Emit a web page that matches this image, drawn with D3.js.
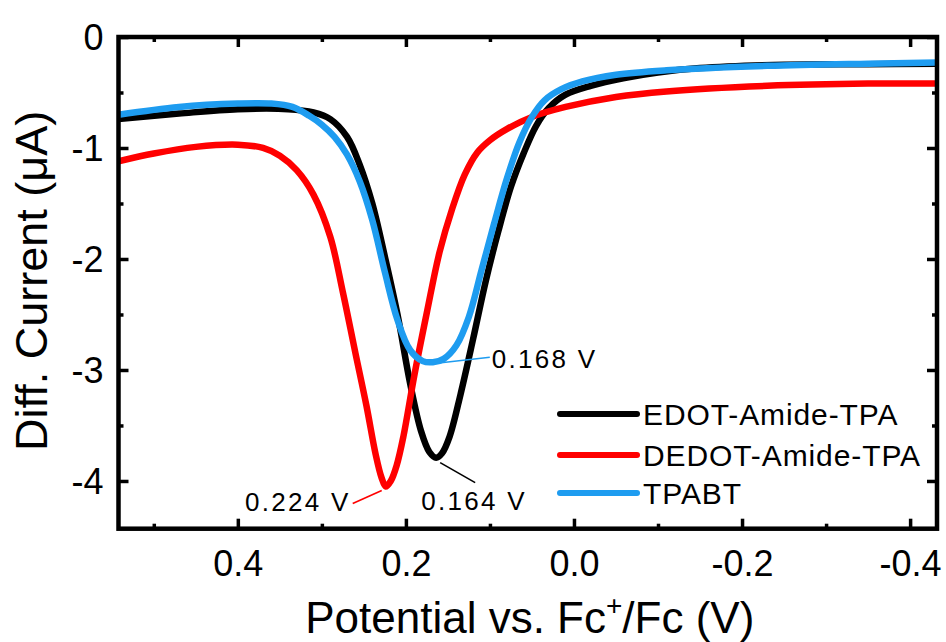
<!DOCTYPE html>
<html>
<head>
<meta charset="utf-8">
<script src="https://cdn.jsdelivr.net/npm/d3@7/dist/d3.min.js"></script>
<style>
  html, body { margin: 0; padding: 0; background: #fff; }
  svg { display: block; }
  text { font-family: "Liberation Sans", Arial, sans-serif; fill: #000; }
</style>
</head>
<body>
<svg id="chart" width="946" height="642"></svg>
<script>
// ---- Data ----
const seriesNames = ["EDOT-Amide-TPA", "DEDOT-Amide-TPA", "TPABT"];
const seriesColors = ["#000000", "#ff0000", "#1e9cf0"];

const edotV = [0.542, 0.47, 0.40, 0.34, 0.31, 0.29, 0.27, 0.255, 0.24, 0.225, 0.21, 0.195, 0.182, 0.172, 0.164, 0.157, 0.148, 0.135, 0.12, 0.105, 0.09, 0.075, 0.06, 0.045, 0.03, 0.01, -0.02, -0.06, -0.10, -0.15, -0.25, -0.35, -0.432];
const edotI = [-0.74, -0.69, -0.65, -0.65, -0.68, -0.74, -0.90, -1.15, -1.50, -1.98, -2.50, -3.12, -3.55, -3.74, -3.79, -3.75, -3.60, -3.22, -2.72, -2.20, -1.75, -1.35, -1.05, -0.80, -0.64, -0.52, -0.44, -0.37, -0.32, -0.28, -0.25, -0.245, -0.24];

const dedotV = [0.542, 0.50, 0.45, 0.40, 0.37, 0.35, 0.33, 0.31, 0.29, 0.275, 0.26, 0.247, 0.236, 0.229, 0.224, 0.218, 0.211, 0.203, 0.19, 0.175, 0.16, 0.145, 0.13, 0.115, 0.10, 0.08, 0.05, 0.01, -0.05, -0.11, -0.23, -0.35, -0.432];
const dedotI = [-1.12, -1.05, -0.99, -0.97, -1.00, -1.07, -1.20, -1.42, -1.80, -2.30, -2.85, -3.32, -3.76, -3.97, -4.05, -4.00, -3.86, -3.60, -3.05, -2.48, -1.94, -1.55, -1.24, -1.04, -0.93, -0.83, -0.72, -0.63, -0.54, -0.49, -0.44, -0.42, -0.42];

const tpabtV = [0.542, 0.47, 0.40, 0.36, 0.335, 0.315, 0.30, 0.285, 0.27, 0.255, 0.24, 0.225, 0.21, 0.195, 0.18, 0.168, 0.155, 0.14, 0.125, 0.11, 0.095, 0.08, 0.065, 0.05, 0.035, 0.015, -0.01, -0.05, -0.11, -0.23, -0.35, -0.432];
const tpabtI = [-0.70, -0.63, -0.60, -0.60, -0.63, -0.71, -0.79, -0.90, -1.06, -1.30, -1.65, -2.12, -2.55, -2.82, -2.92, -2.93, -2.90, -2.78, -2.52, -2.10, -1.68, -1.28, -0.95, -0.72, -0.57, -0.47, -0.40, -0.34, -0.30, -0.26, -0.24, -0.23];

const xMajorTicks = [0.4, 0.2, 0.0, -0.2, -0.4];
const xMinorTicks = [0.5, 0.3, 0.1, -0.1, -0.3];
const yMajorTicks = [0, -1, -2, -3, -4];
const yMinorTicks = [-0.5, -1.5, -2.5, -3.5];
const xTickLabels = ["0.4", "0.2", "0.0", "-0.2", "-0.4"];
const yTickLabels = ["0", "-1", "-2", "-3", "-4"];

// peak annotations
const peakV = [0.168, 0.164, 0.224];
const peakI = [-2.93, -3.79, -4.05];
const peakLabels = ["0.168 V", "0.164 V", "0.224 V"];
const peakSeries = [2, 0, 1];

// ---- Layout ----
const svg = d3.select("#chart");
const L = 118.5, R = 937, T = 37, B = 528.7;

const x = d3.scaleLinear().domain([0.542, -0.432]).range([L, R]);
const y = d3.scaleLinear().domain([0, -4.43]).range([T, B]);

const series = [
  {V: edotV, I: edotI},
  {V: dedotV, I: dedotI},
  {V: tpabtV, I: tpabtI}
];

const line = d3.line()
  .x(d => x(d[0]))
  .y(d => y(d[1]))
  .curve(d3.curveCatmullRom.alpha(0.5));

svg.append("defs").append("clipPath").attr("id", "clip")
  .append("rect").attr("x", L).attr("y", T).attr("width", R - L).attr("height", B - T);

const plot = svg.append("g").attr("clip-path", "url(#clip)");
series.forEach((s, i) => {
  const pts = s.V.map((v, k) => [v, s.I[k]]);
  plot.append("path")
    .attr("d", line(pts))
    .attr("fill", "none")
    .attr("stroke", seriesColors[i])
    .attr("stroke-width", 6.5)
    .attr("stroke-linejoin", "round")
    .attr("stroke-linecap", "round");
});

// ---- Axes (ticks inward on all 4 sides) ----
const majLen = 10, minLen = 5, tickW = 3.5;
function addAxis(axis, transform) {
  const g = svg.append("g").attr("transform", transform).call(axis);
  g.select(".domain").remove();
  g.selectAll(".tick line").attr("stroke", "#000").attr("stroke-width", tickW);
  return g;
}
const xb = addAxis(d3.axisBottom(x).tickValues(xMajorTicks).tickSize(-majLen).tickPadding(0)
  .tickFormat((d, i) => xTickLabels[i]), `translate(0,${B})`);
xb.selectAll(".tick text").attr("font-size", 36).attr("dy", 0).attr("y", 47)
  .attr("font-family", "Liberation Sans, Arial, sans-serif");
addAxis(d3.axisBottom(x).tickValues(xMinorTicks).tickSize(-minLen).tickFormat(""), `translate(0,${B})`);
addAxis(d3.axisTop(x).tickValues(xMajorTicks).tickSize(-majLen).tickFormat(""), `translate(0,${T})`);
addAxis(d3.axisTop(x).tickValues(xMinorTicks).tickSize(-minLen).tickFormat(""), `translate(0,${T})`);

const yl = addAxis(d3.axisLeft(y).tickValues(yMajorTicks).tickSize(-majLen).tickPadding(15)
  .tickFormat((d, i) => yTickLabels[i]), `translate(${L},0)`);
yl.selectAll(".tick text").attr("font-size", 36).attr("x", -15).attr("dy", "0.36em")
  .attr("font-family", "Liberation Sans, Arial, sans-serif");
addAxis(d3.axisLeft(y).tickValues(yMinorTicks).tickSize(-minLen).tickFormat(""), `translate(${L},0)`);
addAxis(d3.axisRight(y).tickValues(yMajorTicks).tickSize(-majLen).tickFormat(""), `translate(${R},0)`);
addAxis(d3.axisRight(y).tickValues(yMinorTicks).tickSize(-minLen).tickFormat(""), `translate(${R},0)`);

// frame
svg.append("rect").attr("x", L).attr("y", T).attr("width", R - L).attr("height", B - T)
  .attr("fill", "none").attr("stroke", "#000").attr("stroke-width", 4.5);

// ---- Axis titles ----
const xt = svg.append("text").attr("x", (L + R) / 2 + 2).attr("y", 633)
  .attr("text-anchor", "middle").attr("font-size", 44);
xt.append("tspan").text("Potential vs. Fc");
xt.append("tspan").text("+").attr("font-size", 28).attr("dy", -18);
xt.append("tspan").text("/Fc (V)").attr("dy", 18);

svg.append("text")
  .attr("transform", `translate(47,${(T + B) / 2 - 2}) rotate(-90)`)
  .attr("text-anchor", "middle").attr("font-size", 45)
  .text("Diff. Current (\u03bcA)");

// ---- Peak annotations ----
// offsets relative to the peak: [line start dx,dy, line end dx,dy, text dx,dy, anchor]
const annOffsets = [
  [4, 1, 57, -5, 59, 6, "start"],
  [4, 5, 39, 25, -15, 52, "start"],
  [-4, 4, -33, 17, -35, 24, "end"]
];
peakV.forEach((v, i) => {
  const px = x(v), py = y(peakI[i]);
  const o = annOffsets[i];
  svg.append("line")
    .attr("x1", px + o[0]).attr("y1", py + o[1])
    .attr("x2", px + o[2]).attr("y2", py + o[3])
    .attr("stroke", seriesColors[peakSeries[i]]).attr("stroke-width", 1.6);
  svg.append("text")
    .attr("x", px + o[4]).attr("y", py + o[5])
    .attr("text-anchor", o[6])
    .attr("font-size", 26).attr("letter-spacing", "2.3px")
    .text(peakLabels[i]);
});

// ---- Legend ----
const legX1 = 560, legX2 = 637, legTextX = 643;
const legY = [414, 455, 493];
seriesNames.forEach((name, i) => {
  svg.append("line")
    .attr("x1", legX1).attr("x2", legX2).attr("y1", legY[i]).attr("y2", legY[i])
    .attr("stroke", seriesColors[i]).attr("stroke-width", 6).attr("stroke-linecap", "round");
  svg.append("text")
    .attr("x", legTextX).attr("y", legY[i] + 11)
    .attr("font-size", 30).attr("letter-spacing", "0.9px")
    .text(name);
});
</script>
</body>
</html>
